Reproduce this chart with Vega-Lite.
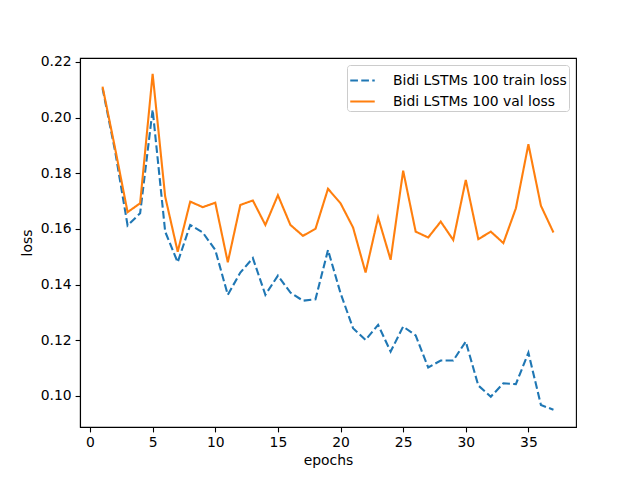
{
  "$schema": "https://vega.github.io/schema/vega-lite/v6.json",
  "width": 496,
  "height": 369,
  "autosize": "none",
  "padding": {"left": 80, "top": 58, "right": 64, "bottom": 53},
  "background": "white",
  "config": {
    "font": "DejaVu Sans",
    "view": {"stroke": "black", "strokeWidth": 1.1},
    "axis": {
      "grid": false,
      "domainColor": "black",
      "domainWidth": 1.1,
      "tickColor": "black",
      "tickWidth": 1.1,
      "tickSize": 4.9,
      "labelFont": "DejaVu Sans",
      "labelFontSize": 13.9,
      "labelColor": "black",
      "labelPadding": 4,
      "titleFont": "DejaVu Sans",
      "titleFontSize": 13.9,
      "titleFontWeight": "normal",
      "titleColor": "black"
    }
  },
  "data": {
    "values": [
      {"epoch": 1, "loss": 0.2105, "series": "Bidi LSTMs 100 train loss"},
      {"epoch": 2, "loss": 0.188, "series": "Bidi LSTMs 100 train loss"},
      {"epoch": 3, "loss": 0.1612, "series": "Bidi LSTMs 100 train loss"},
      {"epoch": 4, "loss": 0.1656, "series": "Bidi LSTMs 100 train loss"},
      {"epoch": 5, "loss": 0.2028, "series": "Bidi LSTMs 100 train loss"},
      {"epoch": 6, "loss": 0.159, "series": "Bidi LSTMs 100 train loss"},
      {"epoch": 7, "loss": 0.148, "series": "Bidi LSTMs 100 train loss"},
      {"epoch": 8, "loss": 0.1614, "series": "Bidi LSTMs 100 train loss"},
      {"epoch": 9, "loss": 0.1587, "series": "Bidi LSTMs 100 train loss"},
      {"epoch": 10, "loss": 0.1524, "series": "Bidi LSTMs 100 train loss"},
      {"epoch": 11, "loss": 0.1363, "series": "Bidi LSTMs 100 train loss"},
      {"epoch": 12, "loss": 0.1443, "series": "Bidi LSTMs 100 train loss"},
      {"epoch": 13, "loss": 0.1495, "series": "Bidi LSTMs 100 train loss"},
      {"epoch": 14, "loss": 0.1363, "series": "Bidi LSTMs 100 train loss"},
      {"epoch": 15, "loss": 0.1432, "series": "Bidi LSTMs 100 train loss"},
      {"epoch": 16, "loss": 0.1371, "series": "Bidi LSTMs 100 train loss"},
      {"epoch": 17, "loss": 0.1342, "series": "Bidi LSTMs 100 train loss"},
      {"epoch": 18, "loss": 0.1347, "series": "Bidi LSTMs 100 train loss"},
      {"epoch": 19, "loss": 0.1524, "series": "Bidi LSTMs 100 train loss"},
      {"epoch": 20, "loss": 0.1369, "series": "Bidi LSTMs 100 train loss"},
      {"epoch": 21, "loss": 0.1243, "series": "Bidi LSTMs 100 train loss"},
      {"epoch": 22, "loss": 0.1201, "series": "Bidi LSTMs 100 train loss"},
      {"epoch": 23, "loss": 0.1255, "series": "Bidi LSTMs 100 train loss"},
      {"epoch": 24, "loss": 0.1159, "series": "Bidi LSTMs 100 train loss"},
      {"epoch": 25, "loss": 0.1249, "series": "Bidi LSTMs 100 train loss"},
      {"epoch": 26, "loss": 0.1217, "series": "Bidi LSTMs 100 train loss"},
      {"epoch": 27, "loss": 0.1102, "series": "Bidi LSTMs 100 train loss"},
      {"epoch": 28, "loss": 0.1127, "series": "Bidi LSTMs 100 train loss"},
      {"epoch": 29, "loss": 0.1127, "series": "Bidi LSTMs 100 train loss"},
      {"epoch": 30, "loss": 0.1195, "series": "Bidi LSTMs 100 train loss"},
      {"epoch": 31, "loss": 0.1037, "series": "Bidi LSTMs 100 train loss"},
      {"epoch": 32, "loss": 0.0997, "series": "Bidi LSTMs 100 train loss"},
      {"epoch": 33, "loss": 0.1045, "series": "Bidi LSTMs 100 train loss"},
      {"epoch": 34, "loss": 0.1042, "series": "Bidi LSTMs 100 train loss"},
      {"epoch": 35, "loss": 0.1155, "series": "Bidi LSTMs 100 train loss"},
      {"epoch": 36, "loss": 0.0967, "series": "Bidi LSTMs 100 train loss"},
      {"epoch": 37, "loss": 0.095, "series": "Bidi LSTMs 100 train loss"},
      {"epoch": 1, "loss": 0.2111, "series": "Bidi LSTMs 100 val loss"},
      {"epoch": 2, "loss": 0.189, "series": "Bidi LSTMs 100 val loss"},
      {"epoch": 3, "loss": 0.166, "series": "Bidi LSTMs 100 val loss"},
      {"epoch": 4, "loss": 0.1692, "series": "Bidi LSTMs 100 val loss"},
      {"epoch": 5, "loss": 0.2157, "series": "Bidi LSTMs 100 val loss"},
      {"epoch": 6, "loss": 0.1716, "series": "Bidi LSTMs 100 val loss"},
      {"epoch": 7, "loss": 0.1518, "series": "Bidi LSTMs 100 val loss"},
      {"epoch": 8, "loss": 0.1698, "series": "Bidi LSTMs 100 val loss"},
      {"epoch": 9, "loss": 0.1678, "series": "Bidi LSTMs 100 val loss"},
      {"epoch": 10, "loss": 0.1694, "series": "Bidi LSTMs 100 val loss"},
      {"epoch": 11, "loss": 0.148, "series": "Bidi LSTMs 100 val loss"},
      {"epoch": 12, "loss": 0.1686, "series": "Bidi LSTMs 100 val loss"},
      {"epoch": 13, "loss": 0.1702, "series": "Bidi LSTMs 100 val loss"},
      {"epoch": 14, "loss": 0.1614, "series": "Bidi LSTMs 100 val loss"},
      {"epoch": 15, "loss": 0.1721, "series": "Bidi LSTMs 100 val loss"},
      {"epoch": 16, "loss": 0.1614, "series": "Bidi LSTMs 100 val loss"},
      {"epoch": 17, "loss": 0.1575, "series": "Bidi LSTMs 100 val loss"},
      {"epoch": 18, "loss": 0.16, "series": "Bidi LSTMs 100 val loss"},
      {"epoch": 19, "loss": 0.1744, "series": "Bidi LSTMs 100 val loss"},
      {"epoch": 20, "loss": 0.1692, "series": "Bidi LSTMs 100 val loss"},
      {"epoch": 21, "loss": 0.1605, "series": "Bidi LSTMs 100 val loss"},
      {"epoch": 22, "loss": 0.1443, "series": "Bidi LSTMs 100 val loss"},
      {"epoch": 23, "loss": 0.1641, "series": "Bidi LSTMs 100 val loss"},
      {"epoch": 24, "loss": 0.1489, "series": "Bidi LSTMs 100 val loss"},
      {"epoch": 25, "loss": 0.1809, "series": "Bidi LSTMs 100 val loss"},
      {"epoch": 26, "loss": 0.159, "series": "Bidi LSTMs 100 val loss"},
      {"epoch": 27, "loss": 0.1569, "series": "Bidi LSTMs 100 val loss"},
      {"epoch": 28, "loss": 0.1626, "series": "Bidi LSTMs 100 val loss"},
      {"epoch": 29, "loss": 0.156, "series": "Bidi LSTMs 100 val loss"},
      {"epoch": 30, "loss": 0.1776, "series": "Bidi LSTMs 100 val loss"},
      {"epoch": 31, "loss": 0.1563, "series": "Bidi LSTMs 100 val loss"},
      {"epoch": 32, "loss": 0.159, "series": "Bidi LSTMs 100 val loss"},
      {"epoch": 33, "loss": 0.1549, "series": "Bidi LSTMs 100 val loss"},
      {"epoch": 34, "loss": 0.1674, "series": "Bidi LSTMs 100 val loss"},
      {"epoch": 35, "loss": 0.1904, "series": "Bidi LSTMs 100 val loss"},
      {"epoch": 36, "loss": 0.1683, "series": "Bidi LSTMs 100 val loss"},
      {"epoch": 37, "loss": 0.1587, "series": "Bidi LSTMs 100 val loss"}
    ]
  },
  "mark": {"type": "line", "strokeWidth": 2.1, "clip": true},
  "encoding": {
    "x": {
      "field": "epoch",
      "type": "quantitative",
      "title": "epochs",
      "scale": {"domain": [-0.8, 38.8], "nice": false, "zero": false},
      "axis": {"values": [0, 5, 10, 15, 20, 25, 30, 35], "titlePadding": 4}
    },
    "y": {
      "field": "loss",
      "type": "quantitative",
      "title": "loss",
      "scale": {"domain": [0.0888, 0.2214], "nice": false, "zero": false},
      "axis": {"values": [0.1, 0.12, 0.14, 0.16, 0.18, 0.2, 0.22], "format": ".2f", "titlePadding": 6}
    },
    "color": {
      "field": "series",
      "type": "nominal",
      "title": null,
      "scale": {"domain": ["Bidi LSTMs 100 train loss", "Bidi LSTMs 100 val loss"], "range": ["#1f77b4", "#ff7f0e"]},
      "legend": {
        "orient": "top-right",
        "offset": 7,
        "symbolType": "stroke",
        "symbolSize": 600,
        "symbolStrokeWidth": 2.1,
        "labelFontSize": 13.9,
        "labelFont": "DejaVu Sans",
        "labelColor": "black",
        "labelLimit": 0,
        "labelOffset": 17,
        "rowPadding": 0,
        "padding": 2,
        "strokeColor": "#cccccc",
        "fillColor": "white",
        "cornerRadius": 3
      }
    },
    "strokeDash": {
      "field": "series",
      "type": "nominal",
      "title": null,
      "scale": {"domain": ["Bidi LSTMs 100 train loss", "Bidi LSTMs 100 val loss"], "range": [[7.7, 3.3], [1, 0]]},
      "legend": null
    }
  }
}
